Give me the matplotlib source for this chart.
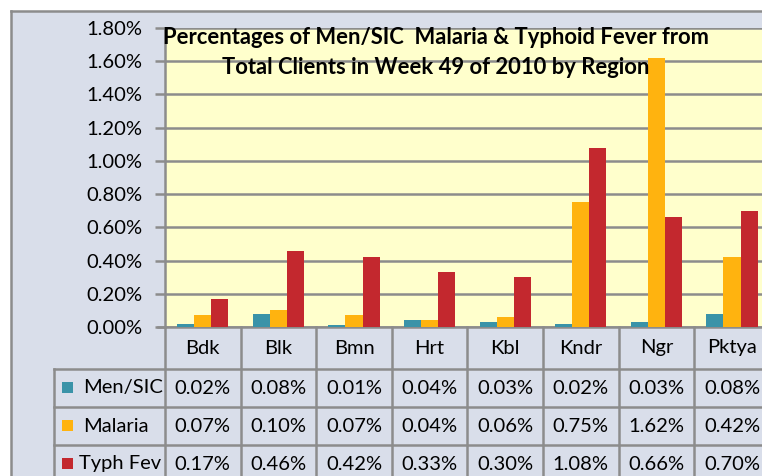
import matplotlib
matplotlib.use("Agg")
import matplotlib.pyplot as plt
import numpy as np
from matplotlib.patches import Rectangle
from matplotlib.lines import Line2D
from matplotlib.ticker import FuncFormatter, MultipleLocator
import matplotlib.transforms as mtrans

plt.rcParams['font.family'] = ['Lato', 'DejaVu Sans']

categories = ["Bdk", "Blk", "Bmn", "Hrt", "Kbl", "Kndr", "Ngr", "Pktya"]
series_names = ["Men/SIC", "Malaria", "Typh Fev"]
men_sic = [0.02, 0.08, 0.01, 0.04, 0.03, 0.02, 0.03, 0.08]
malaria = [0.07, 0.10, 0.07, 0.04, 0.06, 0.75, 1.62, 0.42]
typh_fev = [0.17, 0.46, 0.42, 0.33, 0.30, 1.08, 0.66, 0.70]
series = [men_sic, malaria, typh_fev]
colors = ["#3A93A8", "#FFB30F", "#C3282E"]
title_lines = ["Percentages of Men/SIC  Malaria & Typhoid Fever from",
               "Total Clients in Week 49 of 2010 by Region"]

W, H = 762, 476
fig = plt.figure(figsize=(W / 100, H / 100), dpi=100)
fig.patch.set_facecolor("white")

def fx(x):
    return x / W

def fy(y):
    return 1 - y / H

grid_c = "#8C8C8C"
bg_c = "#D9DEEA"
fs = 14.5

# outer chart area
fig.add_artist(Rectangle((fx(11), 0), 1, fy(11), transform=fig.transFigure,
                         facecolor=bg_c, edgecolor="none", zorder=0))
fig.add_artist(Line2D([fx(11), fx(11)], [0, fy(11)], transform=fig.transFigure,
                      color=grid_c, lw=1.8, zorder=1))
fig.add_artist(Line2D([fx(11), 1], [fy(11), fy(11)], transform=fig.transFigure,
                      color=grid_c, lw=1.8, zorder=1))

cat_w = 75.6
left, top, bottom = 165, 28, 327
ax = fig.add_axes([fx(left), fy(bottom), fx(cat_w * len(categories)), (bottom - top) / H])
ax.set_facecolor("#FFFFCC")
x = np.arange(len(categories))
bw = 0.225
for i, (vals, c) in enumerate(zip(series, colors)):
    ax.bar(x + (i - 1) * bw, vals, width=bw, color=c, zorder=3)

ax.set_xlim(-0.5, len(categories) - 0.5)
ax.set_ylim(0, 1.8)
ax.yaxis.set_major_locator(MultipleLocator(0.2))
ax.yaxis.set_major_formatter(FuncFormatter(lambda v, p: f"{v:.2f}%"))
ax.yaxis.grid(True, color=grid_c, lw=1.8, zorder=1)
ax.set_axisbelow(True)
for s in ["right", "top"]:
    ax.spines[s].set_visible(False)
for s in ["left", "bottom"]:
    ax.spines[s].set_color(grid_c)
    ax.spines[s].set_linewidth(1.8)
ax.tick_params(axis="y", length=7, width=1.8, color=grid_c, labelsize=fs, pad=9, labelcolor="black")
ax.set_xticks([])
ax.spines["bottom"].set_bounds(-0.5 - 7 / cat_w, len(categories) - 0.5)

for ty, line in zip([38, 67], title_lines):
    fig.text(fx(436), fy(ty), line, ha="center", va="center", fontsize=15.8,
             fontweight="bold", zorder=5)

# data table
blend = mtrans.blended_transform_factory(ax.transData, fig.transFigure)
row_lines = [369, 407, 445]
for xb in np.arange(len(categories) + 1) - 0.5:
    fig.add_artist(Line2D([xb, xb], [fy(bottom), 0], transform=blend, color=grid_c, lw=1.8, zorder=2))
fig.add_artist(Line2D([fx(54), fx(54)], [fy(369), 0], transform=fig.transFigure, color=grid_c, lw=1.8, zorder=2))
for ry in row_lines:
    fig.add_artist(Line2D([fx(54), 1], [fy(ry), fy(ry)], transform=fig.transFigure, color=grid_c, lw=1.8, zorder=2))

for j, cat in enumerate(categories):
    ax.text(j, fy(348), cat, transform=blend, ha="center", va="center", fontsize=fs, clip_on=False)

row_y = [388, 426, 464]
label_x = [83, 83, 79]
for i, (name, vals, c) in enumerate(zip(series_names, series, colors)):
    fig.add_artist(Rectangle((fx(62), fy(row_y[i] + 5)), fx(11), 11 / H, transform=fig.transFigure,
                             facecolor=c, edgecolor="none", zorder=3))
    fig.text(fx(label_x[i]), fy(row_y[i]), name, ha="left", va="center", fontsize=fs)
    for j, v in enumerate(vals):
        ax.text(j, fy(row_y[i]), f"{v:.2f}%", transform=blend, ha="center", va="center",
                fontsize=fs, clip_on=False)

fig.savefig("out.png", dpi=100)
